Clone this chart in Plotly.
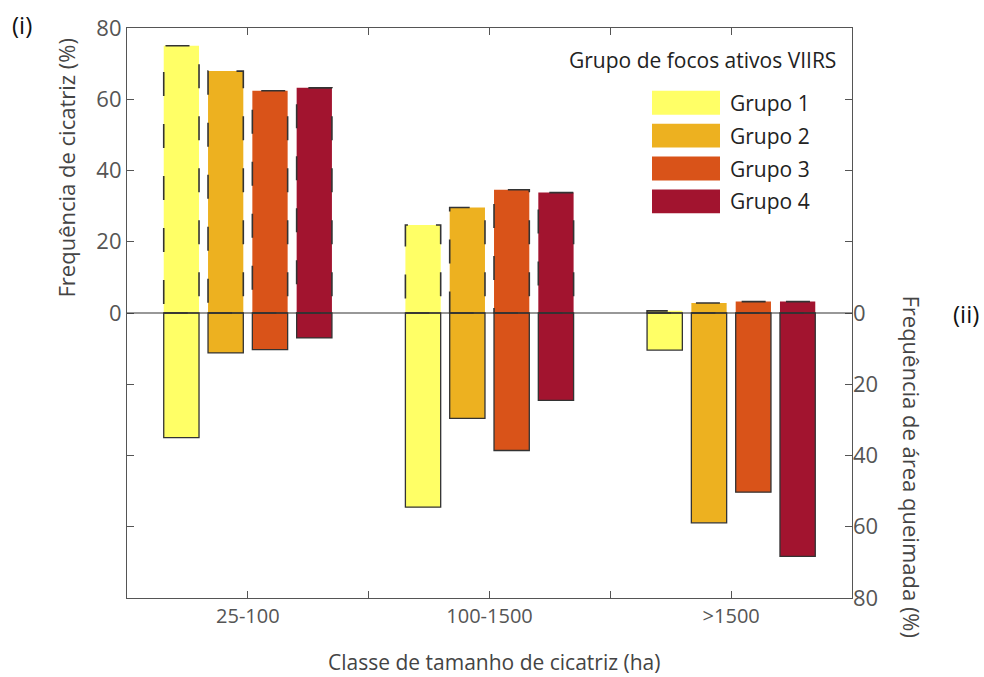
import plotly.graph_objects as go

categories = ["25-100", "100-1500", ">1500"]
groups = ["Grupo 1", "Grupo 2", "Grupo 3", "Grupo 4"]
colors = ["#FFFF66", "#EDB120", "#D95319", "#A2142F"]

# (i) Frequência de cicatriz (%) - upper bars
scar_freq = {
    "Grupo 1": [75.0, 24.7, 0.6],
    "Grupo 2": [67.9, 29.6, 2.8],
    "Grupo 3": [62.4, 34.6, 3.2],
    "Grupo 4": [63.2, 33.8, 3.2],
}
# (ii) Frequência de área queimada (%) - lower bars
area_freq = {
    "Grupo 1": [35.0, 54.5, 10.4],
    "Grupo 2": [11.2, 29.6, 58.9],
    "Grupo 3": [10.3, 38.6, 50.3],
    "Grupo 4": [7.0, 24.5, 68.3],
}

xpos = [1, 2, 3]
bar_w = 0.146
offsets = [-0.275, -0.0917, 0.0917, 0.275]

FONT = "Open Sans"
fig = go.Figure()
shapes = []

for g, col, off in zip(groups, colors, offsets):
    fig.add_trace(go.Bar(
        x=xpos, y=scar_freq[g], width=bar_w, offset=off - bar_w / 2,
        marker=dict(color=col, line=dict(width=0)), yaxis="y", showlegend=False, name=g))
    fig.add_trace(go.Bar(
        x=xpos, y=area_freq[g], width=bar_w, offset=off - bar_w / 2,
        marker=dict(color=col, line=dict(width=1.3, color="#333333")), yaxis="y2",
        showlegend=False, name=g))
    for xc, v in zip(xpos, scar_freq[g]):
        shapes.append(dict(type="rect", xref="x", yref="y",
                           x0=xc + off - bar_w / 2, x1=xc + off + bar_w / 2, y0=0, y1=v,
                           line=dict(color="#333333", width=1.6, dash="24px,28px"),
                           fillcolor="rgba(0,0,0,0)", layer="above"))

# zero line
shapes.append(dict(type="line", xref="paper", yref="y", x0=0, x1=1, y0=0, y1=0,
                   line=dict(color="#333333", width=1.2), layer="above"))

# manual legend
annotations = []
leg_x0, leg_x1 = 652, 720
leg_y = [89, 122, 155, 188]
W, H = 984, 677
for g, col, yy in zip(groups, colors, leg_y):
    shapes.append(dict(type="rect", xref="paper", yref="paper",
                       x0=(leg_x0 - 127) / 725, x1=(leg_x1 - 127) / 725,
                       y0=(598 - (yy + 24)) / 572, y1=(598 - yy) / 572,
                       line=dict(width=0), fillcolor=col, layer="above"))
    annotations.append(dict(xref="paper", yref="paper", x=(728 - 127) / 725,
                            y=(598 - (yy + 12)) / 572, text=g, showarrow=False,
                            xanchor="left", yanchor="middle",
                            font=dict(family=FONT, size=21, color="#222222")))
annotations.append(dict(xref="paper", yref="paper", x=(838 - 127) / 725, y=(598 - 58) / 572,
                        text="Grupo de focos ativos VIIRS", showarrow=False,
                        xanchor="right", yanchor="middle",
                        font=dict(family=FONT, size=21, color="#222222")))
# axis titles
annotations.append(dict(xref="paper", yref="paper", x=(66 - 127) / 725, y=(598 - 166) / 572,
                        text="Frequência de cicatriz (%)", showarrow=False, textangle=-90,
                        xanchor="center", yanchor="middle",
                        font=dict(family=FONT, size=22, color="#444444")))
annotations.append(dict(xref="paper", yref="paper", x=(912 - 127) / 725, y=(598 - 466) / 572,
                        text="Frequência de área queimada (%)", showarrow=False, textangle=90,
                        xanchor="center", yanchor="middle",
                        font=dict(family=FONT, size=22, color="#444444")))
annotations.append(dict(xref="paper", yref="paper", x=(494 - 127) / 725, y=(598 - 662) / 572,
                        text="Classe de tamanho de cicatriz (ha)", showarrow=False,
                        xanchor="center", yanchor="middle",
                        font=dict(family=FONT, size=21, color="#444444")))
annotations.append(dict(xref="paper", yref="paper", x=(22 - 127) / 725, y=(598 - 22) / 572,
                        text="(i)", showarrow=False, xanchor="center", yanchor="middle",
                        font=dict(family=FONT, size=24, color="#111111")))
annotations.append(dict(xref="paper", yref="paper", x=(966 - 127) / 725, y=(598 - 312) / 572,
                        text="(ii)", showarrow=False, xanchor="center", yanchor="middle",
                        font=dict(family=FONT, size=24, color="#111111")))

xt = [0.5, 1, 1.5, 2, 2.5, 3, 3.5]
xtt = ["", categories[0], "", categories[1], "", categories[2], ""]

fig.update_layout(
    width=W, height=H,
    margin=dict(l=127, r=132, t=26, b=79),
    plot_bgcolor="white", paper_bgcolor="white",
    barmode="overlay",
    shapes=shapes, annotations=annotations,
    font=dict(family=FONT, color="#555555"),
    xaxis=dict(range=[0.5, 3.5], tickvals=xt, ticktext=xtt, ticks="inside", ticklen=7,
               tickcolor="#555555", showline=True, linecolor="#555555", linewidth=1.2,
               mirror="ticks", showgrid=False, zeroline=False,
               tickfont=dict(family=FONT, size=20, color="#555555")),
    yaxis=dict(range=[-80, 80], tickvals=[-60, -40, -20, 0, 20, 40, 60, 80],
               ticktext=["", "", "", "0", "20", "40", "60", "80"], ticks="inside", ticklen=7,
               tickcolor="#555555", showline=True, linecolor="#555555", linewidth=1.2,
               mirror=True, showgrid=False, zeroline=False,
               tickfont=dict(family=FONT, size=22, color="#555555")),
    yaxis2=dict(range=[80, -80], overlaying="y", side="right", anchor="x",
                tickvals=[-60, -40, -20, 0, 20, 40, 60, 80],
                ticktext=["", "", "", "0", "20", "40", "60", "80"], ticks="inside", ticklen=7,
                tickcolor="#555555", showline=False, showgrid=False, zeroline=False,
                tickfont=dict(family=FONT, size=22, color="#555555")),
)

fig.write_html("out.html")
